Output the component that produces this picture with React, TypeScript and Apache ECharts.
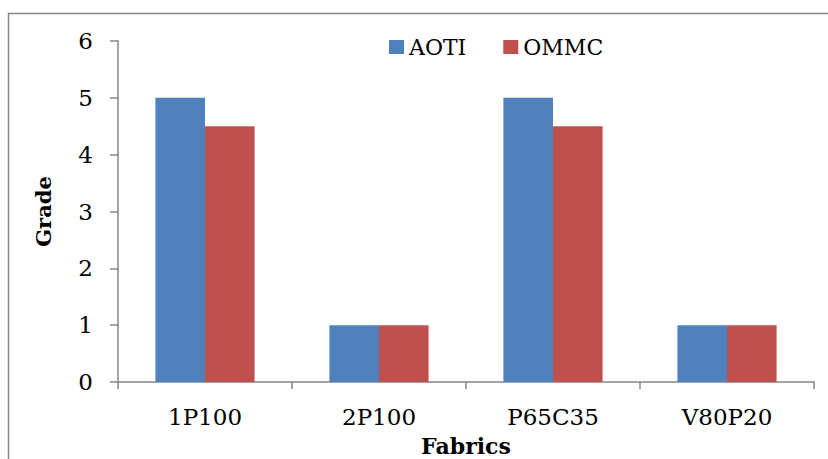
import React, { useEffect, useRef } from "react";
import * as echarts from "echarts";

const categories = ["1P100", "2P100", "P65C35", "V80P20"];
const aotiValues = [5, 1, 5, 1];
const ommcValues = [4.5, 1, 4.5, 1];
const yTicks = { min: 0, max: 6, interval: 1 };

export default function App() {
  const ref = useRef<HTMLDivElement>(null);
  useEffect(() => {
    document.body.style.margin = "0";
    const chart = echarts.init(ref.current!, undefined, { renderer: "svg" });
    const font = "'DejaVu Serif', 'Liberation Serif', serif";
    chart.setOption({
      animation: false,
      textStyle: { fontFamily: font },
      graphic: [
        {
          type: "rect",
          shape: { x: 8.5, y: 13.5, width: 840, height: 460 },
          style: { fill: "none", stroke: "#868686", lineWidth: 1.5 },
          silent: true,
        },
      ],
      legend: {
        left: 384,
        top: 31,
        itemWidth: 15,
        itemHeight: 14,
        itemGap: 37,
        icon: "rect",
        textStyle: { fontFamily: font, fontSize: 22, color: "#000" },
        data: ["AOTI", "OMMC"],
      },
      grid: { left: 118, top: 41, right: 14, bottom: 77, containLabel: false, outerBoundsMode: "none" },
      xAxis: {
        type: "category",
        data: categories,
        name: "Fabrics",
        nameLocation: "middle",
        nameGap: 53,
        nameTextStyle: { fontFamily: font, fontSize: 22, lineHeight: 22, fontWeight: "bold", color: "#000" },
        axisLine: { lineStyle: { color: "#868686", width: 1.5 } },
        axisTick: { show: true, length: 7, lineStyle: { color: "#868686", width: 1.5 } },
        axisLabel: { fontFamily: font, fontSize: 23, color: "#000", margin: 23 },
      },
      yAxis: {
        type: "value",
        min: yTicks.min,
        max: yTicks.max,
        interval: yTicks.interval,
        name: "Grade",
        nameLocation: "middle",
        nameGap: 64,
        nameTextStyle: { fontFamily: font, fontSize: 21, fontWeight: "bold", color: "#000" },
        axisLine: { show: true, lineStyle: { color: "#868686", width: 1.5 } },
        axisTick: { show: true, length: 8, lineStyle: { color: "#868686", width: 1.5 } },
        axisLabel: { fontFamily: font, fontSize: 23, color: "#000", margin: 25 },
        splitLine: { show: false },
      },
      series: [
        {
          name: "AOTI",
          type: "bar",
          data: aotiValues,
          itemStyle: { color: "#4F81BD" },
          barGap: "0%",
          barCategoryGap: "43%",
        },
        {
          name: "OMMC",
          type: "bar",
          data: ommcValues,
          itemStyle: { color: "#C0504D" },
          barGap: "0%",
          barCategoryGap: "43%",
        },
      ],
    });
    return () => chart.dispose();
  }, []);
  return <div ref={ref} style={{ width: 828, height: 459 }} />;
}
